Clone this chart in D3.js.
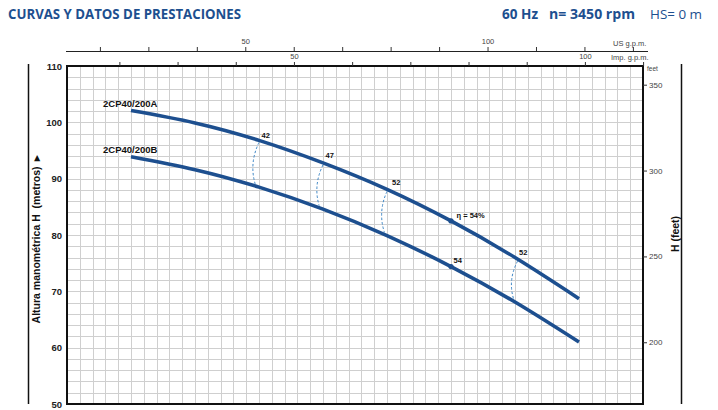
<!DOCTYPE html>
<html><head><meta charset="utf-8">
<script src="https://cdn.jsdelivr.net/npm/d3@7"></script>
<style>html,body{margin:0;padding:0;background:#fff;}svg{display:block;}</style>
</head><body>
<script>
// ---- data ----
const flow = [100, 150, 200, 250, 300, 350, 400, 450];          // l/min
const headA = [102.1, 99.9, 96.8, 92.8, 88.1, 82.5, 76.0, 68.7]; // m
const headB = [93.9, 91.6, 88.5, 84.6, 79.9, 74.4, 68.1, 61.0];  // m
const seriesNames = ["2CP40/200A", "2CP40/200B"];
const effLabels = ["42", "47", "52", "52"];
const effFlowA = [200, 250, 300, 402];
const effFlowB = [197, 247, 298, 399];
const bestFlow = 350;
const bestLabelA = "η = 54%";
const bestLabelB = "54";
const hTicks = [50, 60, 70, 80, 90, 100, 110];
const feetTicks = [200, 250, 300, 350];
const usTicks = [20, 30, 40, 50, 60, 70, 80, 90, 100, 110, 120, 130];
const usLabels = [50, 100];
const impTicks = [20, 30, 40, 50, 60, 70, 80, 90, 100, 110];
const impLabels = [50, 100];

const W = 718, H = 410;
const blue = "#1d4f8f";
const svg = d3.select("body").append("svg").attr("width", W).attr("height", H);

const x = d3.scaleLinear().domain([50, 500]).range([67, 643]);
const y = d3.scaleLinear().domain([50, 110]).range([404, 66]);
const yFt = d3.scaleLinear().domain([50 * 3.28084, 110 * 3.28084]).range([404, 66]);
const xUS = d3.scaleLinear().domain([50 / 3.78541, 500 / 3.78541]).range([67, 643]);
const xImp = d3.scaleLinear().domain([50 / 4.54609, 500 / 4.54609]).range([67, 643]);

// header
svg.append("text").attr("x", 8).attr("y", 19).attr("fill", blue)
  .attr("font-family", "Open Sans").attr("font-weight", 700).attr("font-size", 14.5)
  .attr("textLength", 233).attr("lengthAdjust", "spacingAndGlyphs")
  .text("CURVAS Y DATOS DE PRESTACIONES");
svg.append("text").attr("x", 502).attr("y", 19).attr("fill", blue)
  .attr("font-family", "Open Sans").attr("font-weight", 700).attr("font-size", 13.5)
  .attr("textLength", 36).attr("lengthAdjust", "spacingAndGlyphs").text("60 Hz");
svg.append("text").attr("x", 549).attr("y", 19).attr("fill", blue)
  .attr("font-family", "Open Sans").attr("font-weight", 700).attr("font-size", 13.5)
  .attr("textLength", 86).attr("lengthAdjust", "spacingAndGlyphs").text("n= 3450 rpm");
svg.append("text").attr("x", 650).attr("y", 19).attr("fill", blue)
  .attr("font-family", "Open Sans").attr("font-weight", 400).attr("font-size", 13.5)
  .attr("textLength", 52).attr("lengthAdjust", "spacingAndGlyphs").text("HS= 0 m");

// grid
const grid = svg.append("g").attr("stroke", "#cfcfcf").attr("stroke-width", 1);
d3.range(60, 500, 10).forEach(q => grid.append("line")
  .attr("x1", Math.round(x(q)) + 0.5).attr("x2", Math.round(x(q)) + 0.5).attr("y1", y(110)).attr("y2", y(50)));
d3.range(52, 110, 2).forEach(h => grid.append("line")
  .attr("y1", Math.round(y(h)) + 0.5).attr("y2", Math.round(y(h)) + 0.5).attr("x1", x(50)).attr("x2", x(500)));

// frame
svg.append("rect").attr("x", x(50)).attr("y", y(110)).attr("width", x(500) - x(50)).attr("height", y(50) - y(110))
  .attr("fill", "none").attr("stroke", "#111").attr("stroke-width", 2);

// left axis labels
svg.append("g").selectAll("text").data(hTicks).join("text")
  .attr("x", 62).attr("y", d => y(d) + 3.5).attr("text-anchor", "end")
  .attr("font-family", "Liberation Sans").attr("font-weight", 700).attr("font-size", 9.5).attr("fill", "#222")
  .text(d => d);

// right feet axis
const gR = svg.append("g").attr("transform", `translate(${x(500)},0)`)
  .call(d3.axisRight(yFt).tickValues(feetTicks).tickSize(4).tickPadding(2));
gR.select(".domain").remove();
gR.selectAll("line").attr("stroke", "#333");
gR.selectAll("text").attr("font-family", "Liberation Sans Narrow, Liberation Sans").attr("font-size", 8).attr("fill", "#444");
svg.append("text").attr("x", 647).attr("y", 71).attr("font-family", "Liberation Sans").attr("font-size", 6.5).attr("fill", "#444").text("feet");

// Imp gpm axis on top border
const gI = svg.append("g").attr("transform", `translate(0,${y(110)})`)
  .call(d3.axisTop(xImp).tickValues(impTicks).tickSize(4).tickFormat(d => impLabels.includes(d) ? d : ""));
gI.select(".domain").remove();
gI.selectAll("line").attr("stroke", "#333");
gI.selectAll("text").attr("font-family", "Liberation Sans").attr("font-size", 7.5).attr("fill", "#444").attr("dy", "-0.05em");
svg.append("text").attr("x", 611).attr("y", 60).attr("font-family", "Liberation Sans").attr("font-size", 7.5).attr("fill", "#444").text("Imp. g.p.m.");

// US gpm axis
const gU = svg.append("g").attr("transform", `translate(0,51)`)
  .call(d3.axisTop(xUS).tickValues(usTicks).tickSize(4).tickFormat(d => usLabels.includes(d) ? d : ""));
gU.select(".domain").remove();
gU.selectAll("line").attr("stroke", "#333");
gU.selectAll("text").attr("font-family", "Liberation Sans").attr("font-size", 7.5).attr("fill", "#444").attr("dy", "-0.05em");
svg.append("line").attr("x1", 66).attr("x2", 648).attr("y1", 51.5).attr("y2", 51.5).attr("stroke", "#222").attr("stroke-width", 1.2);
svg.append("text").attr("x", 613).attr("y", 46).attr("font-family", "Liberation Sans").attr("font-size", 7.5).attr("fill", "#444").text("US g.p.m.");

// outer side lines and titles
svg.append("line").attr("x1", 28.5).attr("x2", 28.5).attr("y1", 64).attr("y2", 404).attr("stroke", "#111").attr("stroke-width", 1.5);
svg.append("line").attr("x1", 681.5).attr("x2", 681.5).attr("y1", 64).attr("y2", 404).attr("stroke", "#111").attr("stroke-width", 1.5);
svg.append("text").attr("transform", "translate(40,239) rotate(-90)").attr("text-anchor", "middle")
  .attr("font-family", "Liberation Sans").attr("font-weight", 700).attr("font-size", 10.5).attr("fill", "#111")
  .attr("xml:space", "preserve").text("Altura manométrica H  (metros)  ▸");
svg.append("text").attr("transform", "translate(679,234) rotate(-90)").attr("text-anchor", "middle")
  .attr("font-family", "Liberation Sans").attr("font-weight", 700).attr("font-size", 10.5).attr("fill", "#111")
  .attr("xml:space", "preserve").text("H (feet)");

// curves
const line = d3.line().x(d => x(d[0])).y(d => y(d[1])).curve(d3.curveNatural);
const heads = [headA, headB];
const paths = heads.map(hs => {
  const pts = flow.map((q, i) => [q, hs[i]]);
  return svg.append("path").attr("d", line(pts)).attr("fill", "none")
    .attr("stroke", blue).attr("stroke-width", 3.6).attr("stroke-linecap", "butt");
});
function pointAt(pathSel, q) {
  const node = pathSel.node(); const L = node.getTotalLength(); const tx = x(q);
  let lo = 0, hi = L;
  for (let k = 0; k < 40; k++) { const m = (lo + hi) / 2; if (node.getPointAtLength(m).x < tx) lo = m; else hi = m; }
  const p = node.getPointAtLength((lo + hi) / 2); return [p.x, p.y];
}

// curve names
seriesNames.forEach((n, i) => {
  const p = pointAt(paths[i], flow[0]);
  svg.append("text").attr("x", p[0] - 28).attr("y", p[1] - 4)
    .attr("font-family", "Liberation Sans").attr("font-weight", 700).attr("font-size", 9.5).attr("fill", "#111")
    .text(n);
});

// iso-efficiency dashed arcs
const labOff = [[2.5, -2], [2.5, -4.5], [5, -4.5], [1.5, -4]];
effLabels.forEach((lab, i) => {
  const a = pointAt(paths[0], effFlowA[i]);
  const b = pointAt(paths[1], effFlowB[i]);
  const cx = (a[0] + b[0]) / 2 - 8, cy = (a[1] + b[1]) / 2;
  svg.append("path").attr("d", `M${a[0]},${a[1] + 2}Q${cx},${cy} ${b[0]},${b[1] - 2}`)
    .attr("fill", "none").attr("stroke", "#3d86c6").attr("stroke-width", 1).attr("stroke-dasharray", "2.5,2");
  svg.append("text").attr("x", a[0] + labOff[i][0]).attr("y", a[1] + labOff[i][1])
    .attr("font-family", "Liberation Sans").attr("font-weight", 700).attr("font-size", 7.5).attr("fill", "#111").text(lab);
});

// best efficiency markers
const pa = pointAt(paths[0], bestFlow), pb = pointAt(paths[1], bestFlow);
[pa, pb].forEach(p => svg.append("circle").attr("cx", p[0]).attr("cy", p[1]).attr("r", 2.6).attr("fill", blue));
svg.append("text").attr("x", pa[0] + 5.5).attr("y", pa[1] - 2.5)
  .attr("font-family", "Liberation Sans").attr("font-weight", 700).attr("font-size", 7.5).attr("fill", "#111").text(bestLabelA);
svg.append("text").attr("x", pb[0] + 2.5).attr("y", pb[1] - 3.5)
  .attr("font-family", "Liberation Sans").attr("font-weight", 700).attr("font-size", 7.5).attr("fill", "#111").text(bestLabelB);
</script>
</body></html>
